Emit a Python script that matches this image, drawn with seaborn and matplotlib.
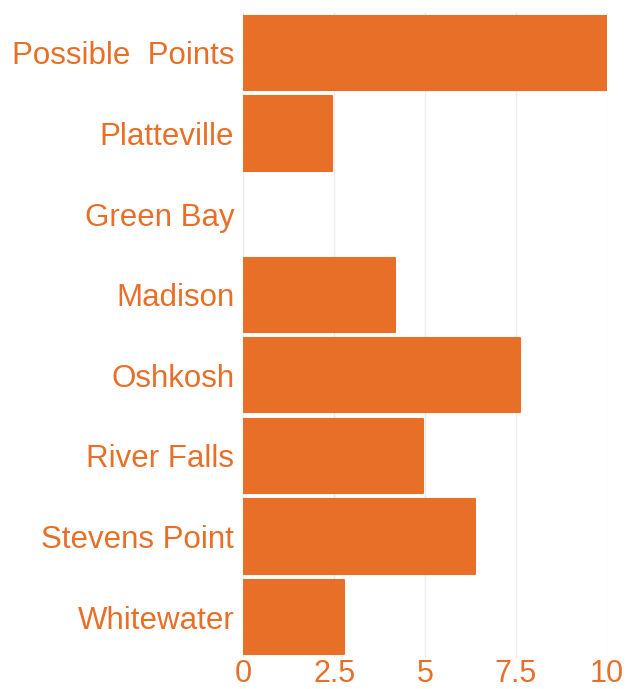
import matplotlib
matplotlib.use("Agg")
import matplotlib.pyplot as plt
import seaborn as sns
import pandas as pd

categories = ["Possible  Points", "Platteville", "Green Bay", "Madison", "Oshkosh",
              "River Falls", "Stevens Point", "Whitewater"]
values = [10, 2.45, 0, 4.17, 7.6, 4.95, 6.37, 2.78]
xticks = [0, 2.5, 5, 7.5, 10]
xtick_labels = ["0", "2.5", "5", "7.5", "10"]

ORANGE = "#E86F27"

sns.set_theme(style="white")
plt.rcParams["font.family"] = ["Liberation Sans", "DejaVu Sans"]

df = pd.DataFrame({"category": categories, "value": values})

fig = plt.figure(figsize=(6.28, 6.89), dpi=100)
ax = fig.add_axes([0.3875, 0.0457, 0.5787, 0.9362])

sns.barplot(data=df, x="value", y="category", orient="h", color=ORANGE,
            width=0.92, saturation=1, ax=ax, zorder=3)
for p in ax.patches:
    if p.get_width() > 0:
        p.set_edgecolor(ORANGE)
        p.set_linewidth(1.5)
        p.set_joinstyle("round")
    else:
        p.set_linewidth(0)

ax.set_xlim(0, 10)
ax.set_ylim(len(categories) - 0.5, -0.5)
ax.set_xticks(xticks)
ax.set_xticklabels(xtick_labels)
ax.xaxis.grid(True, color="#EBEBEB", linewidth=1, zorder=0)
ax.yaxis.grid(False)
ax.set_axisbelow(True)
for s in ax.spines.values():
    s.set_visible(False)
ax.set_xlabel("")
ax.set_ylabel("")
ax.tick_params(axis="y", length=0, pad=6.5, labelsize=22.5, labelcolor=ORANGE)
ax.tick_params(axis="x", length=0, pad=1, labelsize=22, labelcolor=ORANGE)

fig.savefig("out.png", dpi=100)
